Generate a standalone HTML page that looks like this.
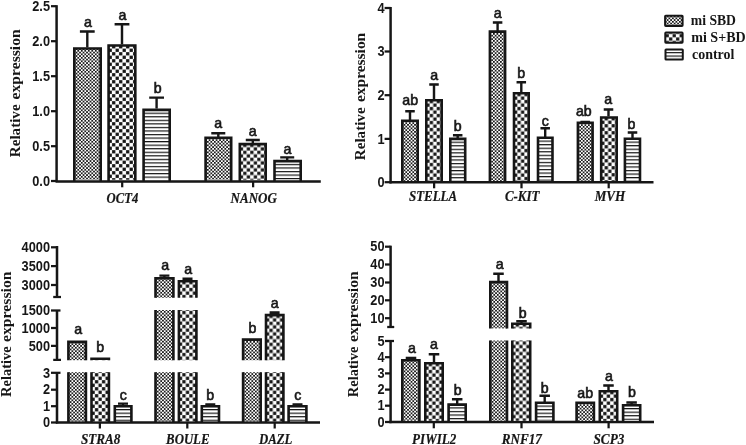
<!DOCTYPE html>
<html><head><meta charset="utf-8"><title>Relative expression</title>
<style>
html,body{margin:0;padding:0;background:#fff;}
svg{display:block;}
.sa{font-family:"Liberation Sans",sans-serif;}
.se{font-family:"Liberation Serif",serif;}
</style></head>
<body>
<svg width="746" height="445" viewBox="0 0 746 445">
<defs>
<pattern id="p1" width="3.5" height="3.5" patternUnits="userSpaceOnUse" patternTransform="translate(0.9,-0.75)">
<rect width="3.5" height="3.5" fill="#fff"/>
<rect x="0" y="0" width="1.72" height="1.72" fill="#161616"/>
<rect x="1.75" y="1.75" width="1.72" height="1.72" fill="#161616"/>
</pattern>
<pattern id="p2" width="7" height="7" patternUnits="userSpaceOnUse" patternTransform="translate(4.65,0.85)">
<rect width="7" height="7" fill="#fff"/>
<rect x="0.1" y="0.1" width="3.3" height="3.3" fill="#161616"/>
<rect x="3.6" y="3.6" width="3.3" height="3.3" fill="#161616"/>
</pattern>
<pattern id="p3" width="7" height="3.55" patternUnits="userSpaceOnUse" patternTransform="translate(0,0.5)">
<rect width="7" height="3.55" fill="#fff"/>
<rect x="0" y="-0.1" width="7" height="1.3" fill="#161616"/>
</pattern>
<filter id="bf"><feGaussianBlur stdDeviation="0.45"/></filter>
<filter id="bl" x="0" y="0" width="746" height="445" filterUnits="userSpaceOnUse"><feGaussianBlur stdDeviation="0.45"/></filter>
</defs>
<rect width="746" height="445" fill="#fff"/>
<g filter="url(#bl)">
<text transform="translate(20.0,64.35) rotate(-90)" text-anchor="middle" class="se" font-weight="bold" font-size="15.5" fill="#161616" textLength="70.1" lengthAdjust="spacingAndGlyphs">expression</text>
<text transform="translate(20.0,130.80) rotate(-90)" text-anchor="middle" class="se" font-weight="bold" font-size="15.5" fill="#161616" textLength="52.8" lengthAdjust="spacingAndGlyphs">Relative</text>
<path d="M56.6 5.2V182" fill="none" stroke="#161616" stroke-width="2.5"/>
<path d="M55.5 181.4H320.8" fill="none" stroke="#161616" stroke-width="2.5"/>
<path d="M51 6.2H56.6" fill="none" stroke="#161616" stroke-width="2.25"/>
<text transform="translate(50.00,10.98) scale(0.9,1)" text-anchor="end" class="sa" font-weight="bold" font-size="14.2" fill="#161616">2.5</text>
<path d="M51 41.2H56.6" fill="none" stroke="#161616" stroke-width="2.25"/>
<text transform="translate(50.00,45.98) scale(0.9,1)" text-anchor="end" class="sa" font-weight="bold" font-size="14.2" fill="#161616">2.0</text>
<path d="M51 76.2H56.6" fill="none" stroke="#161616" stroke-width="2.25"/>
<text transform="translate(50.00,80.98) scale(0.9,1)" text-anchor="end" class="sa" font-weight="bold" font-size="14.2" fill="#161616">1.5</text>
<path d="M51 111.2H56.6" fill="none" stroke="#161616" stroke-width="2.25"/>
<text transform="translate(50.00,115.98) scale(0.9,1)" text-anchor="end" class="sa" font-weight="bold" font-size="14.2" fill="#161616">1.0</text>
<path d="M51 146.2H56.6" fill="none" stroke="#161616" stroke-width="2.25"/>
<text transform="translate(50.00,150.98) scale(0.9,1)" text-anchor="end" class="sa" font-weight="bold" font-size="14.2" fill="#161616">0.5</text>
<path d="M51 181H56.6" fill="none" stroke="#161616" stroke-width="2.25"/>
<text transform="translate(50.00,185.78) scale(0.9,1)" text-anchor="end" class="sa" font-weight="bold" font-size="14.2" fill="#161616">0.0</text>
<path d="M122.2 181V187.3" fill="none" stroke="#161616" stroke-width="2.25"/>
<path d="M253.1 181V187.3" fill="none" stroke="#161616" stroke-width="2.25"/>
<g transform="translate(73.00,47.20)">
<rect x="1.30" y="1.30" width="26.40" height="131.20" fill="url(#p1)" filter="url(#bf)"/>
<path d="M1.30 133.80V1.30H27.70V133.80" fill="none" stroke="#161616" stroke-width="2.6" stroke-linejoin="miter"/>
</g>
<path d="M87.30 47.50V31.50M79.90 31.50H94.70" fill="none" stroke="#161616" stroke-width="2.4"/>
<text x="88.00" y="26.90" text-anchor="middle" class="sa" font-size="14.2" fill="#161616" stroke="#161616" stroke-width="0.6">a</text>
<g transform="translate(107.30,44.20)">
<rect x="1.30" y="1.30" width="26.70" height="134.20" fill="url(#p2)" filter="url(#bf)"/>
<path d="M1.30 136.80V1.30H28.00V136.80" fill="none" stroke="#161616" stroke-width="2.6" stroke-linejoin="miter"/>
</g>
<path d="M122.00 44.50V24.20M114.60 24.20H129.40" fill="none" stroke="#161616" stroke-width="2.4"/>
<text x="122.40" y="19.90" text-anchor="middle" class="sa" font-size="14.2" fill="#161616" stroke="#161616" stroke-width="0.6">a</text>
<g transform="translate(142.30,108.60)">
<rect x="1.30" y="1.30" width="26.10" height="69.80" fill="url(#p3)" filter="url(#bf)"/>
<path d="M1.30 72.40V1.30H27.40V72.40" fill="none" stroke="#161616" stroke-width="2.6" stroke-linejoin="miter"/>
</g>
<path d="M156.60 108.50V97.60M149.20 97.60H164.00" fill="none" stroke="#161616" stroke-width="2.4"/>
<text x="157.70" y="92.90" text-anchor="middle" class="sa" font-size="14.2" fill="#161616" stroke="#161616" stroke-width="0.6">b</text>
<g transform="translate(204.30,136.50)">
<rect x="1.30" y="1.30" width="25.60" height="41.90" fill="url(#p1)" filter="url(#bf)"/>
<path d="M1.30 44.50V1.30H26.90V44.50" fill="none" stroke="#161616" stroke-width="2.6" stroke-linejoin="miter"/>
</g>
<path d="M218.30 137.00V133.20M211.30 133.20H225.30" fill="none" stroke="#161616" stroke-width="2.4"/>
<text x="218.20" y="127.70" text-anchor="middle" class="sa" font-size="14.2" fill="#161616" stroke="#161616" stroke-width="0.6">a</text>
<g transform="translate(238.50,142.80)">
<rect x="1.30" y="1.30" width="25.90" height="35.60" fill="url(#p2)" filter="url(#bf)"/>
<path d="M1.30 38.20V1.30H27.20V38.20" fill="none" stroke="#161616" stroke-width="2.6" stroke-linejoin="miter"/>
</g>
<path d="M252.80 143.00V140.00M245.80 140.00H259.80" fill="none" stroke="#161616" stroke-width="2.4"/>
<text x="252.80" y="135.70" text-anchor="middle" class="sa" font-size="14.2" fill="#161616" stroke="#161616" stroke-width="0.6">a</text>
<g transform="translate(273.20,159.80)">
<rect x="1.30" y="1.30" width="26.20" height="18.60" fill="url(#p3)" filter="url(#bf)"/>
<path d="M1.30 21.20V1.30H27.50V21.20" fill="none" stroke="#161616" stroke-width="2.6" stroke-linejoin="miter"/>
</g>
<path d="M287.20 160.00V157.40M280.20 157.40H294.20" fill="none" stroke="#161616" stroke-width="2.4"/>
<text x="287.40" y="153.70" text-anchor="middle" class="sa" font-size="14.2" fill="#161616" stroke="#161616" stroke-width="0.6">a</text>
<text x="122.45" y="202.70" text-anchor="middle" class="se" font-weight="bold" font-style="italic" font-size="14.3" fill="#161616" stroke="#161616" stroke-width="0.2" textLength="31.70" lengthAdjust="spacingAndGlyphs">OCT4</text>
<text x="253.75" y="202.90" text-anchor="middle" class="se" font-weight="bold" font-style="italic" font-size="14.3" fill="#161616" stroke="#161616" stroke-width="0.2" textLength="46.30" lengthAdjust="spacingAndGlyphs">NANOG</text>
<text transform="translate(365.3,67.40) rotate(-90)" text-anchor="middle" class="se" font-weight="bold" font-size="15.5" fill="#161616" textLength="69.2" lengthAdjust="spacingAndGlyphs">expression</text>
<text transform="translate(365.3,133.80) rotate(-90)" text-anchor="middle" class="se" font-weight="bold" font-size="15.5" fill="#161616" textLength="52.8" lengthAdjust="spacingAndGlyphs">Relative</text>
<path d="M390.6 7V183.4" fill="none" stroke="#161616" stroke-width="2.5"/>
<path d="M389.5 182.2H653.5" fill="none" stroke="#161616" stroke-width="2.5"/>
<path d="M384.6 8H390.6" fill="none" stroke="#161616" stroke-width="2.25"/>
<text transform="translate(384.50,12.78) scale(0.9,1)" text-anchor="end" class="sa" font-weight="bold" font-size="14.2" fill="#161616">4</text>
<path d="M384.6 51.5H390.6" fill="none" stroke="#161616" stroke-width="2.25"/>
<text transform="translate(384.50,56.28) scale(0.9,1)" text-anchor="end" class="sa" font-weight="bold" font-size="14.2" fill="#161616">3</text>
<path d="M384.6 95.2H390.6" fill="none" stroke="#161616" stroke-width="2.25"/>
<text transform="translate(384.50,99.98) scale(0.9,1)" text-anchor="end" class="sa" font-weight="bold" font-size="14.2" fill="#161616">2</text>
<path d="M384.6 138.9H390.6" fill="none" stroke="#161616" stroke-width="2.25"/>
<text transform="translate(384.50,143.68) scale(0.9,1)" text-anchor="end" class="sa" font-weight="bold" font-size="14.2" fill="#161616">1</text>
<path d="M384.6 182.2H390.6" fill="none" stroke="#161616" stroke-width="2.25"/>
<text transform="translate(384.50,186.98) scale(0.9,1)" text-anchor="end" class="sa" font-weight="bold" font-size="14.2" fill="#161616">0</text>
<path d="M434.1 182V188.3" fill="none" stroke="#161616" stroke-width="2.25"/>
<path d="M521.5 182V188.3" fill="none" stroke="#161616" stroke-width="2.25"/>
<path d="M608.7 182V188.3" fill="none" stroke="#161616" stroke-width="2.25"/>
<g transform="translate(401.00,119.50)">
<rect x="1.30" y="1.30" width="15.40" height="60.10" fill="url(#p1)" filter="url(#bf)"/>
<path d="M1.30 62.70V1.30H16.70V62.70" fill="none" stroke="#161616" stroke-width="2.6" stroke-linejoin="miter"/>
</g>
<path d="M410.00 120.00V111.20M405.25 111.20H414.75" fill="none" stroke="#161616" stroke-width="2.4"/>
<text x="410.20" y="105.20" text-anchor="middle" class="sa" font-size="14.2" fill="#161616" stroke="#161616" stroke-width="0.6">ab</text>
<g transform="translate(425.00,99.00)">
<rect x="1.30" y="1.30" width="15.40" height="80.60" fill="url(#p2)" filter="url(#bf)"/>
<path d="M1.30 83.20V1.30H16.70V83.20" fill="none" stroke="#161616" stroke-width="2.6" stroke-linejoin="miter"/>
</g>
<path d="M434.00 99.50V84.50M429.25 84.50H438.75" fill="none" stroke="#161616" stroke-width="2.4"/>
<text x="434.20" y="79.50" text-anchor="middle" class="sa" font-size="14.2" fill="#161616" stroke="#161616" stroke-width="0.6">a</text>
<g transform="translate(449.00,137.60)">
<rect x="1.30" y="1.30" width="14.90" height="42.00" fill="url(#p3)" filter="url(#bf)"/>
<path d="M1.30 44.60V1.30H16.20V44.60" fill="none" stroke="#161616" stroke-width="2.6" stroke-linejoin="miter"/>
</g>
<path d="M457.70 138.00V135.20M452.95 135.20H462.45" fill="none" stroke="#161616" stroke-width="2.4"/>
<text x="457.70" y="130.70" text-anchor="middle" class="sa" font-size="14.2" fill="#161616" stroke="#161616" stroke-width="0.6">b</text>
<g transform="translate(488.60,30.30)">
<rect x="1.30" y="1.30" width="15.20" height="149.30" fill="url(#p1)" filter="url(#bf)"/>
<path d="M1.30 151.90V1.30H16.50V151.90" fill="none" stroke="#161616" stroke-width="2.6" stroke-linejoin="miter"/>
</g>
<path d="M497.60 31.00V22.50M492.85 22.50H502.35" fill="none" stroke="#161616" stroke-width="2.4"/>
<text x="497.60" y="18.20" text-anchor="middle" class="sa" font-size="14.2" fill="#161616" stroke="#161616" stroke-width="0.6">a</text>
<g transform="translate(512.70,92.00)">
<rect x="1.30" y="1.30" width="14.70" height="87.60" fill="url(#p2)" filter="url(#bf)"/>
<path d="M1.30 90.20V1.30H16.00V90.20" fill="none" stroke="#161616" stroke-width="2.6" stroke-linejoin="miter"/>
</g>
<path d="M521.30 92.50V82.20M516.55 82.20H526.05" fill="none" stroke="#161616" stroke-width="2.4"/>
<text x="521.30" y="77.70" text-anchor="middle" class="sa" font-size="14.2" fill="#161616" stroke="#161616" stroke-width="0.6">b</text>
<g transform="translate(536.70,136.50)">
<rect x="1.30" y="1.30" width="14.50" height="43.10" fill="url(#p3)" filter="url(#bf)"/>
<path d="M1.30 45.70V1.30H15.80V45.70" fill="none" stroke="#161616" stroke-width="2.6" stroke-linejoin="miter"/>
</g>
<path d="M545.20 137.00V128.20M540.45 128.20H549.95" fill="none" stroke="#161616" stroke-width="2.4"/>
<text x="545.20" y="126.30" text-anchor="middle" class="sa" font-size="14.2" fill="#161616" stroke="#161616" stroke-width="0.6">c</text>
<g transform="translate(576.60,121.50)">
<rect x="1.30" y="1.30" width="14.70" height="58.10" fill="url(#p1)" filter="url(#bf)"/>
<path d="M1.30 60.70V1.30H16.00V60.70" fill="none" stroke="#161616" stroke-width="2.6" stroke-linejoin="miter"/>
</g>
<path d="M585.20 122.00V121.60M580.45 121.60H589.95" fill="none" stroke="#161616" stroke-width="1.6"/>
<text x="583.80" y="116.20" text-anchor="middle" class="sa" font-size="14.2" fill="#161616" stroke="#161616" stroke-width="0.6">ab</text>
<g transform="translate(599.90,116.20)">
<rect x="1.30" y="1.30" width="15.50" height="63.40" fill="url(#p2)" filter="url(#bf)"/>
<path d="M1.30 66.00V1.30H16.80V66.00" fill="none" stroke="#161616" stroke-width="2.6" stroke-linejoin="miter"/>
</g>
<path d="M608.50 116.50V109.50M603.75 109.50H613.25" fill="none" stroke="#161616" stroke-width="2.4"/>
<text x="608.20" y="104.20" text-anchor="middle" class="sa" font-size="14.2" fill="#161616" stroke="#161616" stroke-width="0.6">a</text>
<g transform="translate(623.60,137.50)">
<rect x="1.30" y="1.30" width="15.10" height="42.10" fill="url(#p3)" filter="url(#bf)"/>
<path d="M1.30 44.70V1.30H16.40V44.70" fill="none" stroke="#161616" stroke-width="2.6" stroke-linejoin="miter"/>
</g>
<path d="M632.50 138.00V132.50M627.75 132.50H637.25" fill="none" stroke="#161616" stroke-width="2.4"/>
<text x="631.50" y="128.90" text-anchor="middle" class="sa" font-size="14.2" fill="#161616" stroke="#161616" stroke-width="0.6">b</text>
<text x="433.05" y="200.90" text-anchor="middle" class="se" font-weight="bold" font-style="italic" font-size="14.3" fill="#161616" stroke="#161616" stroke-width="0.2" textLength="48.10" lengthAdjust="spacingAndGlyphs">STELLA</text>
<text x="522.20" y="200.90" text-anchor="middle" class="se" font-weight="bold" font-style="italic" font-size="14.3" fill="#161616" stroke="#161616" stroke-width="0.2" textLength="34.60" lengthAdjust="spacingAndGlyphs">C-KIT</text>
<text x="610.00" y="200.90" text-anchor="middle" class="se" font-weight="bold" font-style="italic" font-size="14.3" fill="#161616" stroke="#161616" stroke-width="0.2" textLength="30.60" lengthAdjust="spacingAndGlyphs">MVH</text>
<g transform="translate(664.10,14.70)"><rect x="1.0" y="1.00" width="17.50" height="10.20" fill="url(#p1)" filter="url(#bf)"/></g>
<rect x="665.10" y="15.70" width="17.50" height="10.20" rx="0.6" fill="none" stroke="#161616" stroke-width="2.0"/>
<g transform="translate(664.30,29.50)"><rect x="1.0" y="3.10" width="17.30" height="10.10" fill="url(#p2)" filter="url(#bf)"/></g>
<rect x="665.30" y="32.60" width="17.30" height="10.10" rx="0.6" fill="none" stroke="#161616" stroke-width="2.0"/>
<g transform="translate(664.50,47.90)"><rect x="1.0" y="1.50" width="17.30" height="10.20" fill="url(#p3)" filter="url(#bf)"/></g>
<rect x="665.50" y="49.40" width="17.30" height="10.20" rx="0.6" fill="none" stroke="#161616" stroke-width="2.0"/>
<text x="690.8" y="25.2" class="se" font-weight="bold" font-size="15.5" fill="#161616" textLength="45.2" lengthAdjust="spacingAndGlyphs">mi SBD</text>
<text x="691.2" y="42.1" class="se" font-weight="bold" font-size="15.5" fill="#161616" textLength="54.5" lengthAdjust="spacingAndGlyphs">mi S+BD</text>
<text x="692" y="59" class="se" font-weight="bold" font-size="15.5" fill="#161616" textLength="42.4" lengthAdjust="spacingAndGlyphs">control</text>
<text transform="translate(11.3,306.75) rotate(-90)" text-anchor="middle" class="se" font-weight="bold" font-size="15.5" fill="#161616" textLength="70.5" lengthAdjust="spacingAndGlyphs">expression</text>
<text transform="translate(11.3,371.55) rotate(-90)" text-anchor="middle" class="se" font-weight="bold" font-size="15.5" fill="#161616" textLength="50.7" lengthAdjust="spacingAndGlyphs">Relative</text>
<path d="M57 246V297" fill="none" stroke="#161616" stroke-width="2.5"/>
<path d="M53.2 297H61" fill="none" stroke="#161616" stroke-width="2.25"/>
<path d="M57 310.5V359.9" fill="none" stroke="#161616" stroke-width="2.5"/>
<path d="M53.2 359.9H61" fill="none" stroke="#161616" stroke-width="2.25"/>
<path d="M57 372.5V423.5" fill="none" stroke="#161616" stroke-width="2.5"/>
<path d="M55.9 422.5H320" fill="none" stroke="#161616" stroke-width="2.5"/>
<path d="M51 247.3H57" fill="none" stroke="#161616" stroke-width="2.25"/>
<text transform="translate(50.00,252.08) scale(0.9,1)" text-anchor="end" class="sa" font-weight="bold" font-size="14.2" fill="#161616">4000</text>
<path d="M51 266.1H57" fill="none" stroke="#161616" stroke-width="2.25"/>
<text transform="translate(50.00,270.88) scale(0.9,1)" text-anchor="end" class="sa" font-weight="bold" font-size="14.2" fill="#161616">3500</text>
<path d="M51 285H57" fill="none" stroke="#161616" stroke-width="2.25"/>
<text transform="translate(50.00,289.78) scale(0.9,1)" text-anchor="end" class="sa" font-weight="bold" font-size="14.2" fill="#161616">3000</text>
<path d="M51 310.5H60.5" fill="none" stroke="#161616" stroke-width="2.25"/>
<text transform="translate(50.00,315.28) scale(0.9,1)" text-anchor="end" class="sa" font-weight="bold" font-size="14.2" fill="#161616">1500</text>
<path d="M51 328H57" fill="none" stroke="#161616" stroke-width="2.25"/>
<text transform="translate(50.00,332.78) scale(0.9,1)" text-anchor="end" class="sa" font-weight="bold" font-size="14.2" fill="#161616">1000</text>
<path d="M51 345.9H57" fill="none" stroke="#161616" stroke-width="2.25"/>
<text transform="translate(50.00,350.68) scale(0.9,1)" text-anchor="end" class="sa" font-weight="bold" font-size="14.2" fill="#161616">500</text>
<path d="M51 372.8H60.5" fill="none" stroke="#161616" stroke-width="2.25"/>
<text transform="translate(50.00,377.58) scale(0.9,1)" text-anchor="end" class="sa" font-weight="bold" font-size="14.2" fill="#161616">3</text>
<path d="M51 389.7H57" fill="none" stroke="#161616" stroke-width="2.25"/>
<text transform="translate(50.00,394.48) scale(0.9,1)" text-anchor="end" class="sa" font-weight="bold" font-size="14.2" fill="#161616">2</text>
<path d="M51 406.2H57" fill="none" stroke="#161616" stroke-width="2.25"/>
<text transform="translate(50.00,410.98) scale(0.9,1)" text-anchor="end" class="sa" font-weight="bold" font-size="14.2" fill="#161616">1</text>
<path d="M51 422.5H57" fill="none" stroke="#161616" stroke-width="2.25"/>
<text transform="translate(50.00,427.28) scale(0.9,1)" text-anchor="end" class="sa" font-weight="bold" font-size="14.2" fill="#161616">0</text>
<path d="M99.9 422.5V428.5" fill="none" stroke="#161616" stroke-width="2.25"/>
<path d="M187.3 422.5V428.5" fill="none" stroke="#161616" stroke-width="2.25"/>
<path d="M274.7 422.5V428.5" fill="none" stroke="#161616" stroke-width="2.25"/>
<g transform="translate(67.10,340.60)">
<rect x="1.30" y="1.30" width="17.50" height="18.30" fill="url(#p1)" filter="url(#bf)"/>
<path d="M1.30 19.60V1.30H18.80V19.60" fill="none" stroke="#161616" stroke-width="2.6" stroke-linejoin="miter"/>
</g>
<g transform="translate(67.10,372.20)">
<rect x="1.30" y="0.00" width="17.50" height="49.00" fill="url(#p1)" filter="url(#bf)"/>
<path d="M1.30 50.30V0.00M18.80 0V50.30" fill="none" stroke="#161616" stroke-width="2.6" stroke-linejoin="miter"/>
</g>
<text x="78.20" y="334.20" text-anchor="middle" class="sa" font-size="14.2" fill="#161616" stroke="#161616" stroke-width="0.6">a</text>
<g transform="translate(90.20,357.50)">
<rect x="1.30" y="1.30" width="17.40" height="1.40" fill="url(#p2)" filter="url(#bf)"/>
<path d="M1.30 2.70V1.30H18.70V2.70" fill="none" stroke="#161616" stroke-width="2.6" stroke-linejoin="miter"/>
</g>
<g transform="translate(90.20,372.20)">
<rect x="1.30" y="0.00" width="17.40" height="49.00" fill="url(#p2)" filter="url(#bf)"/>
<path d="M1.30 50.30V0.00M18.70 0V50.30" fill="none" stroke="#161616" stroke-width="2.6" stroke-linejoin="miter"/>
</g>
<text x="100.20" y="351.70" text-anchor="middle" class="sa" font-size="14.2" fill="#161616" stroke="#161616" stroke-width="0.6">b</text>
<g transform="translate(113.50,405.00)">
<rect x="1.30" y="1.30" width="16.60" height="14.90" fill="url(#p3)" filter="url(#bf)"/>
<path d="M1.30 17.50V1.30H17.90V17.50" fill="none" stroke="#161616" stroke-width="2.6" stroke-linejoin="miter"/>
</g>
<path d="M123.00 405.00V403.60M118.00 403.60H128.00" fill="none" stroke="#161616" stroke-width="2.4"/>
<text x="123.40" y="400.20" text-anchor="middle" class="sa" font-size="14.2" fill="#161616" stroke="#161616" stroke-width="0.6">c</text>
<g transform="translate(154.20,276.90)">
<rect x="1.30" y="1.30" width="17.90" height="19.50" fill="url(#p1)" filter="url(#bf)"/>
<path d="M1.30 20.80V1.30H19.20V20.80" fill="none" stroke="#161616" stroke-width="2.6" stroke-linejoin="miter"/>
</g>
<g transform="translate(154.20,310.00)">
<rect x="1.30" y="0.00" width="17.90" height="50.20" fill="url(#p1)" filter="url(#bf)"/>
<path d="M1.30 50.20V0.00M19.20 0V50.20" fill="none" stroke="#161616" stroke-width="2.6" stroke-linejoin="miter"/>
</g>
<g transform="translate(154.20,372.20)">
<rect x="1.30" y="0.00" width="17.90" height="49.00" fill="url(#p1)" filter="url(#bf)"/>
<path d="M1.30 50.30V0.00M19.20 0V50.30" fill="none" stroke="#161616" stroke-width="2.6" stroke-linejoin="miter"/>
</g>
<path d="M164.40 277.50V275.60M159.40 275.60H169.40" fill="none" stroke="#161616" stroke-width="2.4"/>
<text x="165.20" y="270.00" text-anchor="middle" class="sa" font-size="14.2" fill="#161616" stroke="#161616" stroke-width="0.6">a</text>
<g transform="translate(177.60,280.00)">
<rect x="1.30" y="1.30" width="17.50" height="16.40" fill="url(#p2)" filter="url(#bf)"/>
<path d="M1.30 17.70V1.30H18.80V17.70" fill="none" stroke="#161616" stroke-width="2.6" stroke-linejoin="miter"/>
</g>
<g transform="translate(177.60,310.00)">
<rect x="1.30" y="0.00" width="17.50" height="50.20" fill="url(#p2)" filter="url(#bf)"/>
<path d="M1.30 50.20V0.00M18.80 0V50.20" fill="none" stroke="#161616" stroke-width="2.6" stroke-linejoin="miter"/>
</g>
<g transform="translate(177.60,372.20)">
<rect x="1.30" y="0.00" width="17.50" height="49.00" fill="url(#p2)" filter="url(#bf)"/>
<path d="M1.30 50.30V0.00M18.80 0V50.30" fill="none" stroke="#161616" stroke-width="2.6" stroke-linejoin="miter"/>
</g>
<path d="M187.50 280.50V278.80M182.50 278.80H192.50" fill="none" stroke="#161616" stroke-width="2.4"/>
<text x="188.20" y="274.00" text-anchor="middle" class="sa" font-size="14.2" fill="#161616" stroke="#161616" stroke-width="0.6">a</text>
<g transform="translate(200.50,405.00)">
<rect x="1.30" y="1.30" width="17.20" height="14.90" fill="url(#p3)" filter="url(#bf)"/>
<path d="M1.30 17.50V1.30H18.50V17.50" fill="none" stroke="#161616" stroke-width="2.6" stroke-linejoin="miter"/>
</g>
<path d="M210.30 405.00V404.40M205.30 404.40H215.30" fill="none" stroke="#161616" stroke-width="2.4"/>
<text x="210.20" y="400.20" text-anchor="middle" class="sa" font-size="14.2" fill="#161616" stroke="#161616" stroke-width="0.6">b</text>
<g transform="translate(241.80,338.30)">
<rect x="1.30" y="1.30" width="17.60" height="20.60" fill="url(#p1)" filter="url(#bf)"/>
<path d="M1.30 21.90V1.30H18.90V21.90" fill="none" stroke="#161616" stroke-width="2.6" stroke-linejoin="miter"/>
</g>
<g transform="translate(241.80,372.20)">
<rect x="1.30" y="0.00" width="17.60" height="49.00" fill="url(#p1)" filter="url(#bf)"/>
<path d="M1.30 50.30V0.00M18.90 0V50.30" fill="none" stroke="#161616" stroke-width="2.6" stroke-linejoin="miter"/>
</g>
<text x="252.40" y="333.20" text-anchor="middle" class="sa" font-size="14.2" fill="#161616" stroke="#161616" stroke-width="0.6">b</text>
<g transform="translate(264.70,313.80)">
<rect x="1.30" y="1.30" width="17.40" height="45.10" fill="url(#p2)" filter="url(#bf)"/>
<path d="M1.30 46.40V1.30H18.70V46.40" fill="none" stroke="#161616" stroke-width="2.6" stroke-linejoin="miter"/>
</g>
<g transform="translate(264.70,372.20)">
<rect x="1.30" y="0.00" width="17.40" height="49.00" fill="url(#p2)" filter="url(#bf)"/>
<path d="M1.30 50.30V0.00M18.70 0V50.30" fill="none" stroke="#161616" stroke-width="2.6" stroke-linejoin="miter"/>
</g>
<path d="M274.60 314.50V312.60M269.60 312.60H279.60" fill="none" stroke="#161616" stroke-width="2.6"/>
<text x="274.70" y="307.50" text-anchor="middle" class="sa" font-size="14.2" fill="#161616" stroke="#161616" stroke-width="0.6">a</text>
<g transform="translate(287.30,405.00)">
<rect x="1.30" y="1.30" width="17.80" height="14.90" fill="url(#p3)" filter="url(#bf)"/>
<path d="M1.30 17.50V1.30H19.10V17.50" fill="none" stroke="#161616" stroke-width="2.6" stroke-linejoin="miter"/>
</g>
<path d="M297.50 405.00V404.40M292.50 404.40H302.50" fill="none" stroke="#161616" stroke-width="2.4"/>
<text x="297.70" y="400.20" text-anchor="middle" class="sa" font-size="14.2" fill="#161616" stroke="#161616" stroke-width="0.6">c</text>
<text x="100.60" y="443.70" text-anchor="middle" class="se" font-weight="bold" font-style="italic" font-size="14.3" fill="#161616" stroke="#161616" stroke-width="0.2" textLength="39.40" lengthAdjust="spacingAndGlyphs">STRA8</text>
<text x="187.80" y="443.70" text-anchor="middle" class="se" font-weight="bold" font-style="italic" font-size="14.3" fill="#161616" stroke="#161616" stroke-width="0.2" textLength="43.40" lengthAdjust="spacingAndGlyphs">BOULE</text>
<text x="275.70" y="443.70" text-anchor="middle" class="se" font-weight="bold" font-style="italic" font-size="14.3" fill="#161616" stroke="#161616" stroke-width="0.2" textLength="33.40" lengthAdjust="spacingAndGlyphs">DAZL</text>
<text transform="translate(357.7,306.55) rotate(-90)" text-anchor="middle" class="se" font-weight="bold" font-size="15.5" fill="#161616" textLength="70.9" lengthAdjust="spacingAndGlyphs">expression</text>
<text transform="translate(357.7,371.85) rotate(-90)" text-anchor="middle" class="se" font-weight="bold" font-size="15.5" fill="#161616" textLength="50.7" lengthAdjust="spacingAndGlyphs">Relative</text>
<path d="M390.6 245.7V327" fill="none" stroke="#161616" stroke-width="2.5"/>
<path d="M387.2 327H394.2" fill="none" stroke="#161616" stroke-width="2.25"/>
<path d="M390.6 341V423.2" fill="none" stroke="#161616" stroke-width="2.5"/>
<path d="M389.5 422H654" fill="none" stroke="#161616" stroke-width="2.5"/>
<path d="M385 246.7H390.6" fill="none" stroke="#161616" stroke-width="2.25"/>
<text transform="translate(384.50,251.48) scale(0.9,1)" text-anchor="end" class="sa" font-weight="bold" font-size="14.2" fill="#161616">50</text>
<path d="M385 264.5H390.6" fill="none" stroke="#161616" stroke-width="2.25"/>
<text transform="translate(384.50,269.28) scale(0.9,1)" text-anchor="end" class="sa" font-weight="bold" font-size="14.2" fill="#161616">40</text>
<path d="M385 282.5H390.6" fill="none" stroke="#161616" stroke-width="2.25"/>
<text transform="translate(384.50,287.28) scale(0.9,1)" text-anchor="end" class="sa" font-weight="bold" font-size="14.2" fill="#161616">30</text>
<path d="M385 300.3H390.6" fill="none" stroke="#161616" stroke-width="2.25"/>
<text transform="translate(384.50,305.08) scale(0.9,1)" text-anchor="end" class="sa" font-weight="bold" font-size="14.2" fill="#161616">20</text>
<path d="M385 318.2H390.6" fill="none" stroke="#161616" stroke-width="2.25"/>
<text transform="translate(384.50,322.98) scale(0.9,1)" text-anchor="end" class="sa" font-weight="bold" font-size="14.2" fill="#161616">10</text>
<path d="M385 341H394.0" fill="none" stroke="#161616" stroke-width="2.25"/>
<text transform="translate(384.50,345.78) scale(0.9,1)" text-anchor="end" class="sa" font-weight="bold" font-size="14.2" fill="#161616">5</text>
<path d="M385 357.2H390.6" fill="none" stroke="#161616" stroke-width="2.25"/>
<text transform="translate(384.50,361.98) scale(0.9,1)" text-anchor="end" class="sa" font-weight="bold" font-size="14.2" fill="#161616">4</text>
<path d="M385 373.4H390.6" fill="none" stroke="#161616" stroke-width="2.25"/>
<text transform="translate(384.50,378.18) scale(0.9,1)" text-anchor="end" class="sa" font-weight="bold" font-size="14.2" fill="#161616">3</text>
<path d="M385 389.6H390.6" fill="none" stroke="#161616" stroke-width="2.25"/>
<text transform="translate(384.50,394.38) scale(0.9,1)" text-anchor="end" class="sa" font-weight="bold" font-size="14.2" fill="#161616">2</text>
<path d="M385 405.7H390.6" fill="none" stroke="#161616" stroke-width="2.25"/>
<text transform="translate(384.50,410.48) scale(0.9,1)" text-anchor="end" class="sa" font-weight="bold" font-size="14.2" fill="#161616">1</text>
<path d="M385 422H390.6" fill="none" stroke="#161616" stroke-width="2.25"/>
<text transform="translate(384.50,426.78) scale(0.9,1)" text-anchor="end" class="sa" font-weight="bold" font-size="14.2" fill="#161616">0</text>
<path d="M433.8 422V428.3" fill="none" stroke="#161616" stroke-width="2.25"/>
<path d="M521.5 422V428.3" fill="none" stroke="#161616" stroke-width="2.25"/>
<path d="M608.6 422V428.3" fill="none" stroke="#161616" stroke-width="2.25"/>
<g transform="translate(401.00,359.00)">
<rect x="1.30" y="1.30" width="17.10" height="60.40" fill="url(#p1)" filter="url(#bf)"/>
<path d="M1.30 63.00V1.30H18.40V63.00" fill="none" stroke="#161616" stroke-width="2.6" stroke-linejoin="miter"/>
</g>
<path d="M411.00 359.50V358.00M405.75 358.00H416.25" fill="none" stroke="#161616" stroke-width="2.4"/>
<text x="412.00" y="352.50" text-anchor="middle" class="sa" font-size="14.2" fill="#161616" stroke="#161616" stroke-width="0.6">a</text>
<g transform="translate(424.00,362.00)">
<rect x="1.30" y="1.30" width="17.40" height="57.40" fill="url(#p2)" filter="url(#bf)"/>
<path d="M1.30 60.00V1.30H18.70V60.00" fill="none" stroke="#161616" stroke-width="2.6" stroke-linejoin="miter"/>
</g>
<path d="M434.00 362.50V354.30M428.75 354.30H439.25" fill="none" stroke="#161616" stroke-width="2.4"/>
<text x="434.00" y="348.70" text-anchor="middle" class="sa" font-size="14.2" fill="#161616" stroke="#161616" stroke-width="0.6">a</text>
<g transform="translate(447.30,403.30)">
<rect x="1.30" y="1.30" width="17.10" height="16.10" fill="url(#p3)" filter="url(#bf)"/>
<path d="M1.30 18.70V1.30H18.40V18.70" fill="none" stroke="#161616" stroke-width="2.6" stroke-linejoin="miter"/>
</g>
<path d="M457.20 404.00V399.30M451.95 399.30H462.45" fill="none" stroke="#161616" stroke-width="2.4"/>
<text x="457.70" y="395.00" text-anchor="middle" class="sa" font-size="14.2" fill="#161616" stroke="#161616" stroke-width="0.6">b</text>
<g transform="translate(489.00,280.80)">
<rect x="1.30" y="1.30" width="16.70" height="46.30" fill="url(#p1)" filter="url(#bf)"/>
<path d="M1.30 47.60V1.30H18.00V47.60" fill="none" stroke="#161616" stroke-width="2.6" stroke-linejoin="miter"/>
</g>
<g transform="translate(489.00,340.50)">
<rect x="1.30" y="0.00" width="16.70" height="80.20" fill="url(#p1)" filter="url(#bf)"/>
<path d="M1.30 81.50V0.00M18.00 0V81.50" fill="none" stroke="#161616" stroke-width="2.6" stroke-linejoin="miter"/>
</g>
<path d="M498.50 281.50V273.80M493.25 273.80H503.75" fill="none" stroke="#161616" stroke-width="2.4"/>
<text x="499.70" y="269.20" text-anchor="middle" class="sa" font-size="14.2" fill="#161616" stroke="#161616" stroke-width="0.6">a</text>
<g transform="translate(511.00,322.50)">
<rect x="1.30" y="1.30" width="17.90" height="4.60" fill="url(#p2)" filter="url(#bf)"/>
<path d="M1.30 5.90V1.30H19.20V5.90" fill="none" stroke="#161616" stroke-width="2.6" stroke-linejoin="miter"/>
</g>
<g transform="translate(511.00,340.50)">
<rect x="1.30" y="0.00" width="17.90" height="80.20" fill="url(#p2)" filter="url(#bf)"/>
<path d="M1.30 81.50V0.00M19.20 0V81.50" fill="none" stroke="#161616" stroke-width="2.6" stroke-linejoin="miter"/>
</g>
<path d="M521.50 323.00V321.30M516.25 321.30H526.75" fill="none" stroke="#161616" stroke-width="2.4"/>
<text x="522.70" y="317.50" text-anchor="middle" class="sa" font-size="14.2" fill="#161616" stroke="#161616" stroke-width="0.6">b</text>
<g transform="translate(534.80,401.50)">
<rect x="1.30" y="1.30" width="17.30" height="17.90" fill="url(#p3)" filter="url(#bf)"/>
<path d="M1.30 20.50V1.30H18.60V20.50" fill="none" stroke="#161616" stroke-width="2.6" stroke-linejoin="miter"/>
</g>
<path d="M544.70 402.00V395.80M539.45 395.80H549.95" fill="none" stroke="#161616" stroke-width="2.4"/>
<text x="544.70" y="392.70" text-anchor="middle" class="sa" font-size="14.2" fill="#161616" stroke="#161616" stroke-width="0.6">b</text>
<g transform="translate(575.30,401.50)">
<rect x="1.30" y="1.30" width="17.30" height="17.90" fill="url(#p1)" filter="url(#bf)"/>
<path d="M1.30 20.50V1.30H18.60V20.50" fill="none" stroke="#161616" stroke-width="2.6" stroke-linejoin="miter"/>
</g>
<text x="585.20" y="397.70" text-anchor="middle" class="sa" font-size="14.2" fill="#161616" stroke="#161616" stroke-width="0.6">ab</text>
<g transform="translate(598.50,390.00)">
<rect x="1.30" y="1.30" width="17.40" height="29.40" fill="url(#p2)" filter="url(#bf)"/>
<path d="M1.30 32.00V1.30H18.70V32.00" fill="none" stroke="#161616" stroke-width="2.6" stroke-linejoin="miter"/>
</g>
<path d="M608.50 390.50V385.50M603.25 385.50H613.75" fill="none" stroke="#161616" stroke-width="2.4"/>
<text x="609.00" y="380.70" text-anchor="middle" class="sa" font-size="14.2" fill="#161616" stroke="#161616" stroke-width="0.6">a</text>
<g transform="translate(621.80,404.00)">
<rect x="1.30" y="1.30" width="17.10" height="15.40" fill="url(#p3)" filter="url(#bf)"/>
<path d="M1.30 18.00V1.30H18.40V18.00" fill="none" stroke="#161616" stroke-width="2.6" stroke-linejoin="miter"/>
</g>
<path d="M631.60 404.50V402.50M626.35 402.50H636.85" fill="none" stroke="#161616" stroke-width="2.5"/>
<text x="632.00" y="397.00" text-anchor="middle" class="sa" font-size="14.2" fill="#161616" stroke="#161616" stroke-width="0.6">b</text>
<text x="434.20" y="444.30" text-anchor="middle" class="se" font-weight="bold" font-style="italic" font-size="14.3" fill="#161616" stroke="#161616" stroke-width="0.2" textLength="44.20" lengthAdjust="spacingAndGlyphs">PIWIL2</text>
<text x="521.80" y="444.30" text-anchor="middle" class="se" font-weight="bold" font-style="italic" font-size="14.3" fill="#161616" stroke="#161616" stroke-width="0.2" textLength="40.20" lengthAdjust="spacingAndGlyphs">RNF17</text>
<text x="608.90" y="444.30" text-anchor="middle" class="se" font-weight="bold" font-style="italic" font-size="14.3" fill="#161616" stroke="#161616" stroke-width="0.2" textLength="30.80" lengthAdjust="spacingAndGlyphs">SCP3</text>
</g>
</svg>
</body></html>
